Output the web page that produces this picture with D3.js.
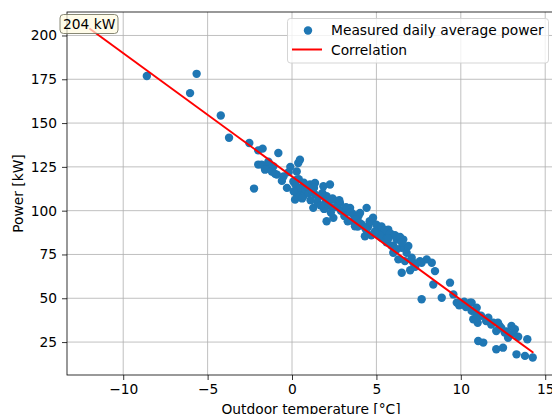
<!DOCTYPE html>
<html>
<head>
<meta charset="utf-8">
<script src="https://cdn.jsdelivr.net/npm/d3@7"></script>
<style>
  body { margin: 0; background: #fff; }
  text { font-family: "DejaVu Sans", sans-serif; }
</style>
</head>
<body>
<div id="chart"></div>
<script>
// outdoor temperature [°C] for each measured day
const tempData = [
    -8.6, -5.65, -6.04, -4.22, -3.73, -2.53, -2.0, -2.0, -2.25,
    -1.74, -0.81, 0.47, 0.37, -1.8, -1.5, -1.1, -1.6, -1.2, -0.9, -0.5,
    -0.3, 0.08, 0.37, 0.67, 0.18, 1.07,
    0.28, 0.28, 0.28, 0.67, 1.36, 1.86, 2.25, 1.26, 2.05, 2.45, 2.84,
    2.05, 2.45, 3.04, 3.44, 3.93, 3.63, 4.13, 4.52,
    3.63, 4.42, 4.03, 3.73, 4.32, 4.72, 4.32, 5.21, 5.41, 5.7, 5.9, 6.2, 6.59,
    6.0, 6.5, 6.89, 6.3, 6.69, 7.09, 7.58, 7.98, 5.31, 5.02,
    6.79, 6.5, 7.19, 7.68, 8.28, 8.47, 8.37, 9.36, 7.68, 8.87, 9.56, 9.76,
    10.15, 10.55, 10.64, 10.94,
    10.64, 10.94, 10.74, 11.63, 11.93, 12.2, 12.1, 12.6, 13.0, 13.2, 12.8,
    11.03, 11.33, 12.1, 12.5, 13.3, 13.8, 14.26, 13.94, 12.3,
    0.2, 0.5, 0.8, 1.0, 0.3, 0.6, 1.2, 1.4, 0.9, 0.1, 1.6, 1.8, 2.0, 1.5, 1.1,
    0.4, 0.7, 1.3, 2.2, 2.6, 2.9, 3.2, 2.7, 3.5, 3.1, 3.8, 4.0, 4.6, 4.8, 5.0,
    5.3, 5.5, 5.8, 6.1, 6.4, 6.5, 5.6, 5.9, 6.2, 6.0, 5.7, 5.2, 4.9, 4.4, 4.7,
    3.9, 3.3, 2.3, 1.9, 1.7, 2.4, 2.8, 7.3, 7.0, 10.3, 10.8, 11.2, 11.5, 11.8,
    12.4, 12.7, 12.9, 13.1, 13.4, 11.0, 10.9, 10.2, 9.9, -1.0, -0.6, -0.2, -1.4, -0.1
];

// measured daily average power [kW]
const powerData = [
    176.9, 178.1, 167.1, 154.3, 141.6, 138.6, 134.4, 126.3, 112.6,
    135.4, 132.9, 129.1, 127.2, 126.3, 124.4, 125.3, 123.4, 122.4, 120.6, 119.6,
    113.0, 116.7, 112.0, 110.1, 106.3, 114.9,
    122.4, 117.7, 110.1, 108.2, 115.8, 113.9, 114.9, 101.6, 108.2, 106.3, 104.4,
    94.0, 95.9, 99.7, 101.6, 96.8, 94.0, 92.1, 91.1,
    97.8, 101.6, 98.7, 91.1, 90.2, 94.0, 85.4, 90.2, 87.4, 89.2, 86.4, 83.5, 83.5,
    79.8, 78.8, 79.8, 72.2, 71.2, 73.1, 71.2, 72.2, 84.5, 87.4,
    76.0, 64.6, 70.3, 70.3, 70.3, 65.5, 57.9, 58.9, 49.4, 50.3, 52.2, 47.5,
    46.5, 47.5, 42.8, 40.9,
    47.5, 44.6, 38.0, 38.9, 36.1, 36.1, 31.3, 30.4, 34.2, 32.3, 27.5,
    25.6, 24.7, 20.9, 21.8, 18.0, 17.1, 16.2, 26.6, 34.2,
    115, 113, 112, 110, 108, 107, 111, 109, 114, 111, 108, 110, 105, 105, 106,
    118, 116, 113, 103, 102, 100, 102, 104, 99, 97, 95, 93, 94, 96, 92,
    91, 89, 87, 86, 85, 82, 82, 80, 78, 76, 84, 86, 88, 89, 86,
    91, 94, 99, 101, 103, 107, 106, 68, 66, 45, 43, 40, 37, 35,
    33, 31, 29, 30, 28, 36, 38.5, 48, 46, 121, 117, 122, 128, 125
];

// fitted correlation line end points
const lineTemp = [-12, 14.3];
const linePower = [204, 18.9];

const xTicks = [-10, -5, 0, 5, 10, 15];
const yTicks = [25, 50, 75, 100, 125, 150, 175, 200];
const annotationText = "204 kW";

const W = 552, H = 414;
const margin = {top: 12, left: 67, right: 555, bottom: 375};

const svg = d3.select("#chart").append("svg")
    .attr("width", W)
    .attr("height", H);

const x = d3.scaleLinear().domain([-13.33, 15.58]).range([margin.left, margin.right]);
const y = d3.scaleLinear().domain([6.2, 213.4]).range([margin.bottom, margin.top]);

const tickFont = "13.8px";

// grid
svg.append("g").selectAll("line.gx")
    .data(xTicks).enter().append("line")
    .attr("x1", d => x(d)).attr("x2", d => x(d))
    .attr("y1", margin.top).attr("y2", margin.bottom)
    .attr("stroke", "#b0b0b0").attr("stroke-width", 0.8);
svg.append("g").selectAll("line.gy")
    .data(yTicks).enter().append("line")
    .attr("x1", margin.left).attr("x2", margin.right)
    .attr("y1", d => y(d)).attr("y2", d => y(d))
    .attr("stroke", "#b0b0b0").attr("stroke-width", 0.8);

// axes
const xAxis = svg.append("g")
    .attr("transform", `translate(0,${margin.bottom})`)
    .call(d3.axisBottom(x).tickValues(xTicks).tickSize(5).tickPadding(4)
        .tickFormat(d => d < 0 ? "\u2212" + Math.abs(d) : d));
const yAxis = svg.append("g")
    .attr("transform", `translate(${margin.left},0)`)
    .call(d3.axisLeft(y).tickValues(yTicks).tickSize(5).tickPadding(5));

[xAxis, yAxis].forEach(a => {
    a.select(".domain").remove();
    a.selectAll("text").attr("font-size", tickFont).attr("fill", "#000")
        .attr("font-family", "DejaVu Sans");
    a.selectAll("line").attr("stroke", "#000").attr("stroke-width", 0.8);
});

// scatter points
svg.append("g").selectAll("circle")
    .data(tempData.map((t, i) => [t, powerData[i]]))
    .enter().append("circle")
    .attr("cx", d => x(d[0]))
    .attr("cy", d => y(d[1]))
    .attr("r", 4.2)
    .attr("fill", "#1f77b4");

// correlation line
svg.append("path")
    .datum(lineTemp.map((t, i) => [t, linePower[i]]))
    .attr("d", d3.line().x(d => x(d[0])).y(d => y(d[1])))
    .attr("stroke", "red")
    .attr("stroke-width", 2)
    .attr("fill", "none");

// frame
svg.append("rect")
    .attr("x", margin.left).attr("y", margin.top)
    .attr("width", margin.right - margin.left)
    .attr("height", margin.bottom - margin.top)
    .attr("fill", "none").attr("stroke", "#000").attr("stroke-width", 0.8);

// annotation at start of the line
const ann = svg.append("g");
ann.append("rect")
    .attr("x", 60).attr("y", 14.5).attr("width", 58).attr("height", 19)
    .attr("rx", 3.5)
    .attr("fill", "#fffbe0").attr("fill-opacity", 0.7)
    .attr("stroke", "#7a7a66").attr("stroke-width", 0.9);
ann.append("text")
    .attr("x", 63).attr("y", 29)
    .attr("font-size", tickFont)
    .text(annotationText);

// legend
const lg = svg.append("g");
lg.append("rect")
    .attr("x", 287.5).attr("y", 18.5).attr("width", 261).attr("height", 44.5)
    .attr("rx", 3)
    .attr("fill", "#fff").attr("fill-opacity", 0.8)
    .attr("stroke", "#d0d0d0").attr("stroke-width", 0.9);
lg.append("circle").attr("cx", 308).attr("cy", 30.5).attr("r", 4.2).attr("fill", "#1f77b4");
lg.append("text").attr("x", 331).attr("y", 34.5).attr("font-size", tickFont)
    .text("Measured daily average power");
lg.append("line").attr("x1", 292).attr("x2", 322).attr("y1", 49.5).attr("y2", 49.5)
    .attr("stroke", "red").attr("stroke-width", 2);
lg.append("text").attr("x", 331).attr("y", 54.5).attr("font-size", tickFont)
    .text("Correlation");

// axis labels
svg.append("text")
    .attr("x", (margin.left + margin.right) / 2).attr("y", 414)
    .attr("text-anchor", "middle").attr("font-size", tickFont)
    .text("Outdoor temperature [°C]");
svg.append("text")
    .attr("transform", `translate(23,${(margin.top + margin.bottom) / 2}) rotate(-90)`)
    .attr("text-anchor", "middle").attr("font-size", tickFont)
    .text("Power [kW]");
</script>
</body>
</html>
